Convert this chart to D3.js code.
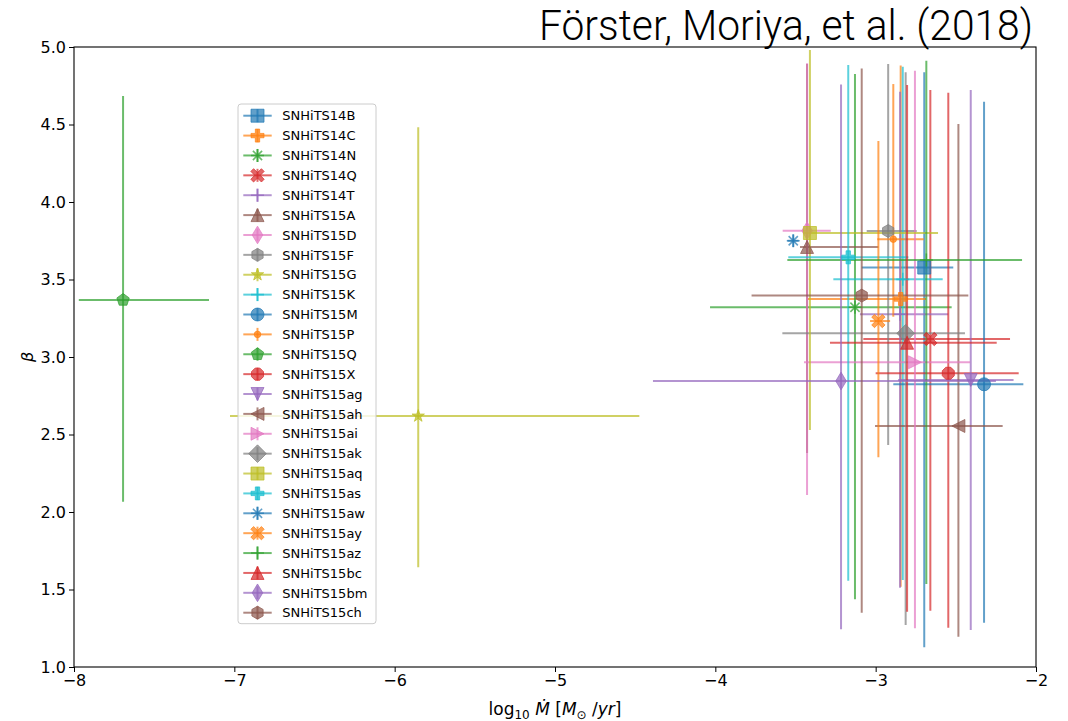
<!DOCTYPE html>
<html>
<head>
<meta charset="utf-8">
<script src="https://cdn.jsdelivr.net/npm/d3@7"></script>
<style>
  body { margin: 0; background: #fff; }
  svg { display: block; }
</style>
</head>
<body>
<svg id="chart" width="1068" height="721"></svg>
<script>
// Supernova names
const names = [
  "SNHiTS14B", "SNHiTS14C", "SNHiTS14N", "SNHiTS14Q", "SNHiTS14T", "SNHiTS15A",
  "SNHiTS15D", "SNHiTS15F", "SNHiTS15G", "SNHiTS15K", "SNHiTS15M", "SNHiTS15P",
  "SNHiTS15Q", "SNHiTS15X", "SNHiTS15ag", "SNHiTS15ah", "SNHiTS15ai", "SNHiTS15ak",
  "SNHiTS15aq", "SNHiTS15as", "SNHiTS15aw", "SNHiTS15ay", "SNHiTS15az", "SNHiTS15bc",
  "SNHiTS15bm", "SNHiTS15ch"
];

// log10 mass-loss rate (best fit) and its lower / upper limits
const logMdot = [
  -2.697, -2.844, -3.129, -2.659, -2.848, -3.428,
  -3.428, -2.922, -5.853, -2.831, -2.324, -2.890,
  -7.694, -2.547, -2.407, -2.484, -2.755, -2.813,
  -3.410, -3.171, -3.514, -2.983, -2.684, -2.804,
  -3.216, -3.087
];
const logMdotLow = [
  -3.087, -3.424, -4.033, -3.077, -3.098, -3.472,
  -3.580, -3.056, -7.027, -3.264, -2.890, -2.990,
  -7.970, -3.000, -2.860, -3.004, -3.447, -3.582,
  -3.453, -3.545, -3.550, -3.035, -3.551, -3.285,
  -4.389, -3.774
];
const logMdotHigh = [
  -2.516, -2.686, -2.526, -2.162, -2.547, -2.983,
  -3.280, -2.744, -4.474, -2.582, -2.079, -2.700,
  -7.158, -2.108, -2.140, -2.208, -2.411, -2.443,
  -2.611, -2.796, -3.480, -2.910, -2.087, -2.245,
  -2.250, -2.422
];

// wind acceleration parameter beta and its lower / upper limits
const beta = [
  3.577, 3.374, 3.321, 3.116, 3.276, 3.710,
  3.815, 3.813, 2.619, 3.501, 2.824, 3.760,
  3.368, 2.895, 2.852, 2.555, 2.966, 3.153,
  3.800, 3.643, 3.750, 3.232, 3.626, 3.092,
  2.845, 3.396
];
const betaLow = [
  1.127, 1.518, 1.437, 1.363, 1.511, 2.380,
  2.110, 2.432, 1.643, 1.561, 1.286, 3.260,
  2.066, 1.254, 1.239, 1.195, 1.250, 1.271,
  2.529, 1.557, 3.710, 2.353, 1.535, 1.357,
  1.243, 1.350
];
const betaHigh = [
  4.837, 4.880, 4.826, 4.723, 4.712, 4.890,
  4.895, 4.890, 4.482, 4.873, 4.647, 4.761,
  4.684, 4.705, 4.723, 4.503, 4.847, 4.837,
  4.980, 4.884, 3.790, 4.394, 4.912, 4.755,
  4.758, 4.862
];

// axis ticks
const xTicks = [-8, -7, -6, -5, -4, -3, -2];
const yTicks = [1.0, 1.5, 2.0, 2.5, 3.0, 3.5, 4.0, 4.5, 5.0];

// marker style per supernova
const markerTypes = [
  "s", "P", "asterisk", "X", "+", "^", "d", "h", "*", "+", "o", ".", "p",
  "8", "v", "<", ">", "D", "s", "P", "asterisk", "X", "+", "^", "d", "h"
];
const palette = ["#1f77b4", "#ff7f0e", "#2ca02c", "#d62728", "#9467bd",
                 "#8c564b", "#e377c2", "#7f7f7f", "#bcbd22", "#17becf"];

const svg = d3.select("#chart");
const W = 1068, H = 721;
const margin = { left: 74, right: 32, top: 47, bottom: 54 };
const plotW = W - margin.left - margin.right;
const plotH = H - margin.top - margin.bottom;

svg.append("rect").attr("width", W).attr("height", H).attr("fill", "#fff");

const x = d3.scaleLinear().domain([-8, -2]).range([margin.left, margin.left + plotW]);
const y = d3.scaleLinear().domain([1, 5]).range([margin.top + plotH, margin.top]);

const ALPHA = 0.7;
const MS = 13;

function markerPath(type, ms) {
  const h = ms / 2;
  const poly = pts => "M" + pts.map(p => p[0].toFixed(2) + "," + p[1].toFixed(2)).join("L") + "Z";
  const reg = (n, r, rot) => d3.range(n).map(k => {
    const a = -Math.PI / 2 + rot + 2 * Math.PI * k / n;
    return [r * Math.cos(a), r * Math.sin(a)];
  });
  const circle = r => `M${-r},0A${r},${r} 0 1,0 ${r},0A${r},${r} 0 1,0 ${-r},0Z`;
  const plus = (ext, t) => [[-t, -ext], [t, -ext], [t, -t], [ext, -t], [ext, t], [t, t],
                            [t, ext], [-t, ext], [-t, t], [-ext, t], [-ext, -t], [-t, -t]];
  switch (type) {
    case "s": return poly([[-h, -h], [h, -h], [h, h], [-h, h]]);
    case "^": return poly([[0, -h], [h, h], [-h, h]]);
    case "v": return poly([[0, h], [h, -h], [-h, -h]]);
    case "<": return poly([[-h, 0], [h, -h], [h, h]]);
    case ">": return poly([[h, 0], [-h, -h], [-h, h]]);
    case "D": { const r = ms * 0.68; return poly([[0, -r], [r, 0], [0, r], [-r, 0]]); }
    case "d": { const r = ms * 0.68; return poly([[0, -r], [r * 0.6, 0], [0, r], [-r * 0.6, 0]]); }
    case "h": return poly(reg(6, h, 0));
    case "p": return poly(reg(5, h, 0));
    case "8": return poly(reg(8, h, Math.PI / 8));
    case "*": return poly(d3.range(10).map(k => {
      const r = k % 2 === 0 ? h : h * 0.381966;
      const a = -Math.PI / 2 + Math.PI * k / 5;
      return [r * Math.cos(a), r * Math.sin(a)];
    }));
    case "o": return circle(h);
    case ".": return circle(h / 2);
    case "P": return poly(plus(h, ms / 6));
    case "X": {
      const c = Math.SQRT1_2;
      return poly(plus(h * 1.15, ms * 0.15).map(([px, py]) => [c * (px - py), c * (px + py)]));
    }
    case "+": return `M${-h},0H${h}M0,${-h}V${h}`;
    case "asterisk": {
      return d3.range(4).map(k => {
        const a = Math.PI * k / 4;
        const dx = h * Math.cos(a), dy = h * Math.sin(a);
        return `M${(-dx).toFixed(2)},${(-dy).toFixed(2)}L${dx.toFixed(2)},${dy.toFixed(2)}`;
      }).join("");
    }
  }
  return "";
}
const strokeOnly = t => t === "+" || t === "asterisk";

function drawMarker(sel, type, color) {
  const p = sel.append("path").attr("d", markerPath(type, MS));
  if (strokeOnly(type)) {
    p.attr("fill", "none").attr("stroke", color).attr("stroke-width", 1.6)
     .attr("stroke-opacity", ALPHA);
  } else {
    p.attr("fill", color).attr("fill-opacity", ALPHA)
     .attr("stroke", color).attr("stroke-width", 1).attr("stroke-opacity", ALPHA);
  }
}

const data = names.map((name, i) => ({
  name, i,
  x: logMdot[i], xLo: logMdotLow[i], xHi: logMdotHigh[i],
  y: beta[i], yLo: betaLow[i], yHi: betaHigh[i],
  color: palette[i % 10], marker: markerTypes[i]
}));

// clip for the plotting area
svg.append("clipPath").attr("id", "plot-clip")
  .append("rect").attr("x", margin.left).attr("y", margin.top)
  .attr("width", plotW).attr("height", plotH);

const plot = svg.append("g").attr("clip-path", "url(#plot-clip)");

// error bars
const bars = plot.append("g").attr("class", "errorbars");
data.forEach(d => {
  const g = bars.append("g");
  g.append("line")
    .attr("x1", x(d.xLo)).attr("x2", x(d.xHi))
    .attr("y1", y(d.y)).attr("y2", y(d.y));
  g.append("line")
    .attr("x1", x(d.x)).attr("x2", x(d.x))
    .attr("y1", y(d.yLo)).attr("y2", y(d.yHi));
  g.selectAll("line").attr("stroke", d.color).attr("stroke-width", 2)
    .attr("stroke-opacity", ALPHA);
});

// markers on top of the bars
const marks = plot.append("g").attr("class", "markers");
data.forEach(d => {
  const g = marks.append("g").attr("transform", `translate(${x(d.x)},${y(d.y)})`);
  drawMarker(g, d.marker, d.color);
});

// frame
svg.append("rect")
  .attr("x", margin.left).attr("y", margin.top)
  .attr("width", plotW).attr("height", plotH)
  .attr("fill", "none").attr("stroke", "#000").attr("stroke-width", 1.1);

// axes
const xAxis = svg.append("g")
  .attr("transform", `translate(0,${margin.top + plotH})`)
  .call(d3.axisBottom(x).tickValues(xTicks).tickFormat(d3.format("d"))
        .tickSize(5).tickSizeOuter(0).tickPadding(3));
const yAxis = svg.append("g")
  .attr("transform", `translate(${margin.left},0)`)
  .call(d3.axisLeft(y).tickValues(yTicks).tickFormat(d3.format(".1f"))
        .tickSize(5).tickSizeOuter(0).tickPadding(3));
[xAxis, yAxis].forEach(a => {
  a.select(".domain").remove();
  a.selectAll(".tick line").attr("stroke", "#000").attr("stroke-width", 1);
  a.selectAll(".tick text").attr("fill", "#000")
    .style("font-family", "'DejaVu Sans', sans-serif").style("font-size", "16px");
});

// axis labels
const xl = svg.append("text")
  .attr("x", margin.left + plotW / 2).attr("y", 715)
  .attr("text-anchor", "middle")
  .style("font-family", "'DejaVu Sans', sans-serif").style("font-size", "17px")
  .attr("fill", "#000");
xl.append("tspan").text("log");
xl.append("tspan").attr("dy", 4).style("font-size", "12px").text("10");
xl.append("tspan").attr("dy", -4).text(" ");
xl.append("tspan").style("font-style", "italic").text("M\u0307");
xl.append("tspan").text(" [");
xl.append("tspan").style("font-style", "italic").text("M");
xl.append("tspan").attr("dy", 4).style("font-size", "12px").text("\u2299");
xl.append("tspan").attr("dy", -4).text(" /");
xl.append("tspan").style("font-style", "italic").text("yr");
xl.append("tspan").text("]");

svg.append("text")
  .attr("transform", `translate(33,${margin.top + plotH / 2}) rotate(-90)`)
  .attr("text-anchor", "middle")
  .style("font-family", "'DejaVu Sans', sans-serif").style("font-size", "16px")
  .style("font-style", "italic")
  .attr("fill", "#000")
  .text("\u03B2");

// legend
const legend = svg.append("g").attr("class", "legend");
const lgX = 238, lgY = 104, rowH = 19.88, firstRow = 115.7;
legend.append("rect")
  .attr("x", lgX).attr("y", lgY).attr("width", 138)
  .attr("height", firstRow - lgY + rowH * (names.length - 1) + 11)
  .attr("rx", 3).attr("fill", "#fff").attr("fill-opacity", 0.8)
  .attr("stroke", "#cccccc").attr("stroke-width", 1);
data.forEach((d, i) => {
  const cy = firstRow + i * rowH;
  const g = legend.append("g").attr("transform", `translate(257.5,${cy})`);
  g.append("line").attr("x1", -14.2).attr("x2", 14.2).attr("y1", 0).attr("y2", 0);
  g.append("line").attr("x1", 0).attr("x2", 0).attr("y1", -6.5).attr("y2", 6.5);
  g.selectAll("line").attr("stroke", d.color).attr("stroke-width", 2)
    .attr("stroke-opacity", ALPHA);
  drawMarker(g, d.marker, d.color);
  legend.append("text")
    .attr("x", 282.3).attr("y", cy).attr("dy", "0.36em")
    .style("font-family", "'DejaVu Sans', sans-serif").style("font-size", "13px")
    .attr("fill", "#000")
    .text(d.name);
});

// citation
svg.append("text")
  .attr("x", 1033).attr("y", 40)
  .attr("text-anchor", "end")
  .attr("textLength", 494).attr("lengthAdjust", "spacingAndGlyphs")
  .style("font-family", "Roboto, 'Liberation Sans Narrow', sans-serif")
  .style("font-weight", 300).style("font-size", "42px")
  .attr("fill", "#000")
  .text("Förster, Moriya, et al. (2018)");
</script>
</body>
</html>
